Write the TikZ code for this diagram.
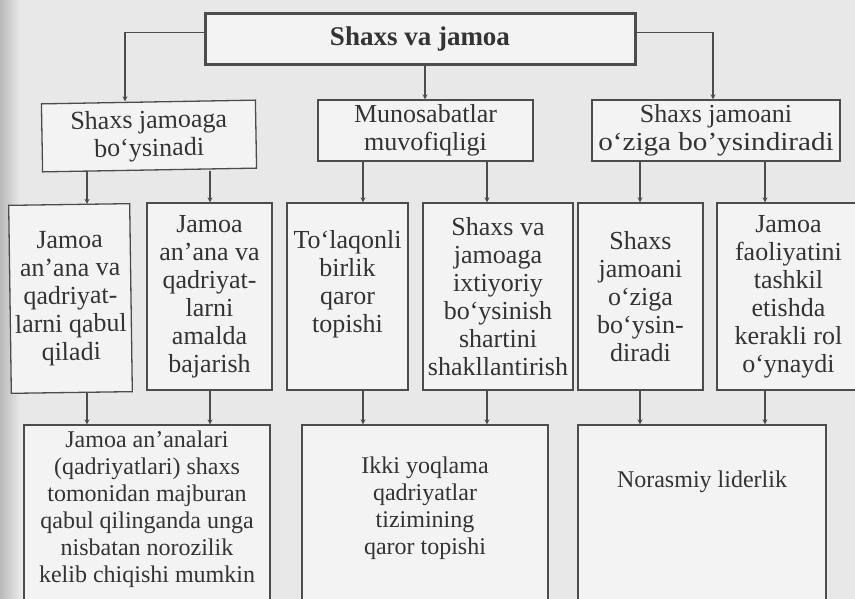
\documentclass[tikz,border=0pt]{standalone}
\usepackage{fontspec}
\setmainfont{Liberation Serif}
\usetikzlibrary{arrows.meta,calc}
\definecolor{bgc}{HTML}{E8E8E8}
\definecolor{boxc}{HTML}{F3F3F3}
\definecolor{linec}{HTML}{4C4C4C}
\definecolor{textc}{HTML}{333333}
\tikzset{
  boxnode/.style={draw=linec, fill=boxc, line width=1.3pt, inner sep=0pt, align=center,
    text=textc, font=\fontsize{26}{28}\selectfont},
  txtnode/.style={inner sep=0pt, align=center, text=textc, font=\fontsize{26}{28}\selectfont},
  smalltxt/.style={txtnode, font=\fontsize{24}{27}\selectfont},
  conn/.style={draw=linec, line width=1.3pt, -{Stealth[length=5pt,width=5pt]}},
}
\begin{document}
\begin{tikzpicture}[x=1pt,y=-1pt]
\useasboundingbox (0,0) rectangle (855,599);
\fill[bgc] (0,0) rectangle (855,599);
\fill[left color=gray!55, right color=bgc] (0,0) rectangle (20,599);

% top
\node[boxnode, line width=3pt, minimum width=430pt, minimum height=51pt,
  font=\bfseries\fontsize{27}{29}\selectfont] (T) at (420,39.5) {Shaxs va jamoa};

% level 2
\node[boxnode, minimum width=214pt, minimum height=68pt, rotate=1] (A) at (149,136)
  {Shaxs jamoaga\\bo‘ysinadi};
\node[boxnode, minimum width=215pt, minimum height=61pt] (B) at (425.5,130.5)
  {Munosabatlar\\muvofiqligi};
\node[boxnode, minimum width=248pt, minimum height=61pt] (C) at (716,130.5)
  {Shaxs jamoani\\\scalebox{1.12}[1]{o‘ziga bo’ysindiradi}};

% level 3
\node[boxnode, minimum width=121pt, minimum height=188pt, rotate=0.8] (D) at (70.5,298.5)
  {Jamoa\\an’ana va\\qadriyat-\\larni qabul\\qiladi};
\node[boxnode, minimum width=125pt, minimum height=187pt] (E) at (209.5,296.5)
  {Jamoa\\an’ana va\\qadriyat-\\larni\\amalda\\bajarish};
\node[boxnode, minimum width=121pt, minimum height=187pt] (F) at (347.5,296.5) {};
\node[txtnode] (Ft) at (347.5,284)
  {To‘laqonli\\birlik\\qaror\\topishi};
\node[boxnode, minimum width=150pt, minimum height=187pt] (G) at (498,296.5)
  {Shaxs va\\jamoaga\\ixtiyoriy\\bo‘ysinish\\shartini\\shakllantirish};
\node[boxnode, minimum width=125pt, minimum height=187pt] (H) at (640.5,296.5)
  {Shaxs\\jamoani\\o‘ziga\\bo‘ysin-\\diradi};
\node[boxnode, minimum width=143pt, minimum height=187pt] (I) at (788.5,296.5)
  {Jamoa\\faoliyatini\\tashkil\\etishda\\kerakli rol\\o‘ynaydi};

% level 4
\node[boxnode, minimum width=246pt, minimum height=200pt] (J) at (147,525) {};
\node[boxnode, minimum width=246pt, minimum height=200pt] (K) at (425,525) {};
\node[boxnode, minimum width=248pt, minimum height=200pt] (L) at (702,525) {};
\node[smalltxt] (Jt) at (147,509)
  {Jamoa an’analari\\(qadriyatlari) shaxs\\tomonidan majburan\\qabul qilinganda unga\\nisbatan norozilik\\kelib chiqishi mumkin};
\node[smalltxt] (Kt) at (425,508)
  {Ikki yoqlama\\qadriyatlar\\tizimining\\qaror topishi};
\node[smalltxt] (Lt) at (702,482) {Norasmiy liderlik};

% connector x positions
\coordinate (xa) at (125,0);
\coordinate (xb) at (425,0);
\coordinate (xc) at (713,0);
\coordinate (x1) at (87,0);
\coordinate (x2) at (210,0);
\coordinate (x3) at (363,0);
\coordinate (x4) at (487,0);
\coordinate (x5) at (640,0);
\coordinate (x6) at (765,0);

% top connectors
\draw[conn] ([yshift=7pt]T.west) -| (xa |- A.north);
\draw[conn] (xb |- T.south) -- (xb |- B.north);
\draw[conn] ([yshift=7pt]T.east) -| (xc |- C.north);

% level 2 -> 3
\draw[conn] (x1 |- A.south) -- (x1 |- D.north);
\draw[conn] (x2 |- A.south) -- (x2 |- E.north);
\draw[conn] (x3 |- B.south) -- (x3 |- F.north);
\draw[conn] (x4 |- B.south) -- (x4 |- G.north);
\draw[conn] (x5 |- C.south) -- (x5 |- H.north);
\draw[conn] (x6 |- C.south) -- (x6 |- I.north);

% level 3 -> 4
\draw[conn] (x1 |- D.south) -- (x1 |- J.north);
\draw[conn] (x2 |- E.south) -- (x2 |- J.north);
\draw[conn] (x3 |- F.south) -- (x3 |- K.north);
\draw[conn] (x4 |- G.south) -- (x4 |- K.north);
\draw[conn] (x5 |- H.south) -- (x5 |- L.north);
\draw[conn] (x6 |- I.south) -- (x6 |- L.north);
\end{tikzpicture}
\end{document}
